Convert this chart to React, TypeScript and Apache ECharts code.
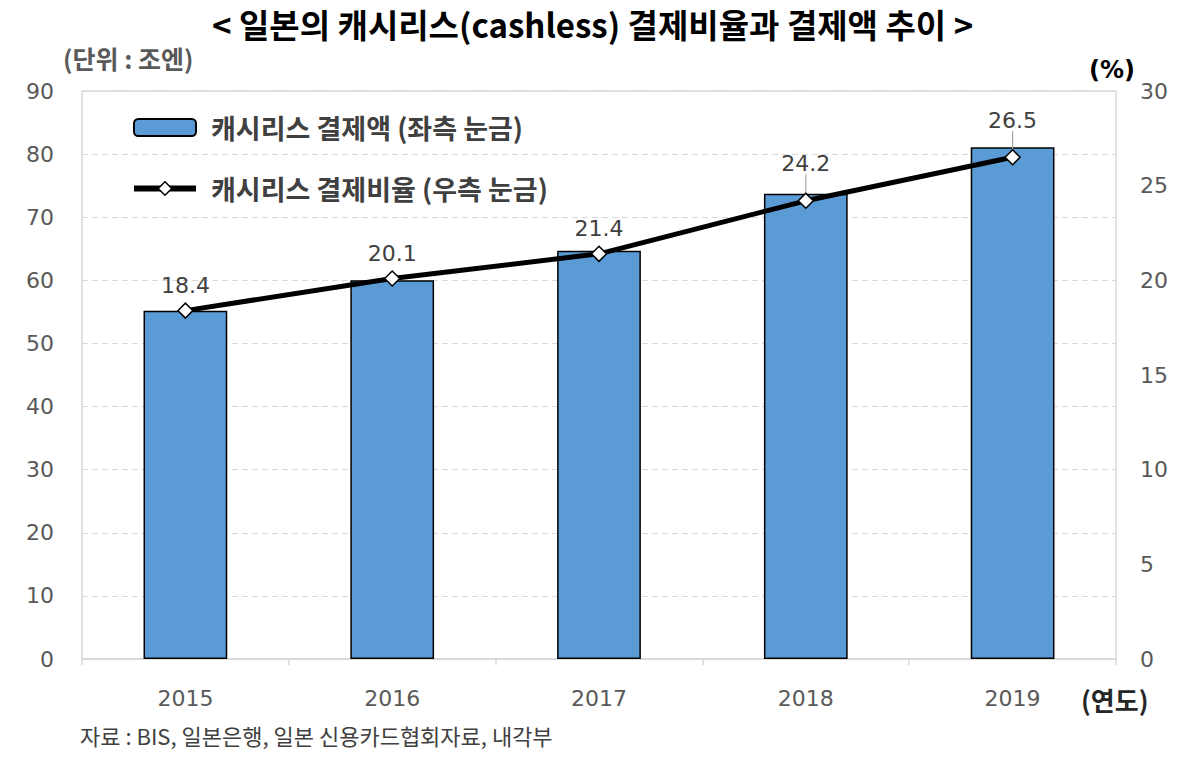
import React, { useEffect, useRef } from "react";
import * as echarts from "echarts";

const years = ["2015", "2016", "2017", "2018", "2019"];
const amountTrillionYen = [55.2, 60.0, 64.7, 73.7, 81.1];
const ratioPercent = [18.4, 20.1, 21.4, 24.2, 26.5];
const leaderLineYears = ["2018", "2019"];
const leftTicks = { min: 0, max: 90, interval: 10 };
const rightTicks = { min: 0, max: 30, interval: 5 };

const FONT = "'DejaVu Sans', 'Noto Sans CJK KR', sans-serif";
const KFONT = "'Noto Sans CJK KR', 'DejaVu Sans', sans-serif";

export default function App() {
  const ref = useRef<HTMLDivElement>(null);
  useEffect(() => {
    if (!ref.current) return;
    const chart = echarts.init(ref.current, null, { renderer: "svg" });
    const ratioData = ratioPercent.map((v, i) =>
      leaderLineYears.includes(years[i])
        ? { value: v, labelLine: { show: true, lineStyle: { color: "#a6a6a6", width: 1.2 } } }
        : { value: v, labelLine: { show: false } }
    );
    chart.setOption({
      animation: false,
      backgroundColor: "#ffffff",
      textStyle: { fontFamily: FONT },
      grid: {
        left: 82,
        right: 74,
        top: 91,
        bottom: 102,
        show: true,
        borderColor: "#d9d9d9",
        borderWidth: 1.5,
        containLabel: false,
      },
      legend: {
        orient: "vertical",
        left: 126,
        top: 109,
        itemWidth: 62,
        itemHeight: 17,
        itemGap: 34,
        textStyle: { fontSize: 27, fontWeight: "bold", color: "#404040", fontFamily: KFONT, padding: [0, 0, 0, 10] },
        data: [
          { name: "캐시리스 결제액 (좌측 눈금)" },
          {
            name: "캐시리스 결제비율 (우측 눈금)",
            lineStyle: { width: 6, color: "#000000" },
            itemStyle: { color: "#ffffff", borderColor: "#000000", borderWidth: 1.5 },
          },
        ],
      },
      xAxis: {
        type: "category",
        data: years,
        axisLine: { lineStyle: { color: "#d9d9d9", width: 1.5 } },
        axisTick: { show: true, alignWithLabel: false, length: 6, lineStyle: { color: "#d9d9d9", width: 1.5 } },
        axisLabel: { fontSize: 22, color: "#595959", margin: 28, fontFamily: FONT },
      },
      yAxis: [
        {
          type: "value",
          min: leftTicks.min,
          max: leftTicks.max,
          interval: leftTicks.interval,
          axisLine: { show: false },
          axisTick: { show: false },
          splitLine: { lineStyle: { color: "#d9d9d9", type: [6, 4], width: 1.2 } },
          axisLabel: { fontSize: 22, color: "#595959", margin: 28, fontFamily: FONT },
        },
        {
          type: "value",
          min: rightTicks.min,
          max: rightTicks.max,
          interval: rightTicks.interval,
          axisLine: { show: false },
          axisTick: { show: false },
          splitLine: { show: false },
          axisLabel: { fontSize: 22, color: "#595959", margin: 24, fontFamily: FONT },
        },
      ],
      series: [
        {
          name: "캐시리스 결제액 (좌측 눈금)",
          type: "bar",
          data: amountTrillionYen,
          yAxisIndex: 0,
          barWidth: "40.5%",
          itemStyle: { color: "#5b9bd5", borderColor: "#000000", borderWidth: 1.5 },
          z: 2,
        },
        {
          name: "캐시리스 결제비율 (우측 눈금)",
          type: "line",
          data: ratioData,
          yAxisIndex: 1,
          symbol: "diamond",
          symbolSize: 15,
          lineStyle: { color: "#000000", width: 5 },
          itemStyle: { color: "#ffffff", borderColor: "#000000", borderWidth: 1.5 },
          label: {
            show: true,
            position: "top",
            distance: 6,
            fontSize: 22,
            color: "#404040",
            fontFamily: FONT,
            formatter: (p: any) => Number(p.value).toFixed(1),
          },
          labelLayout: (p: any) => (leaderLineYears.includes(years[p.dataIndex]) ? { dy: -12 } : {}),
          z: 5,
        },
      ],
      graphic: [
        {
          type: "text",
          left: 212,
          top: 7,
          style: {
            text: "< 일본의 캐시리스(cashless) 결제비율과 결제액 추이 >",
            font: `bold 33px ${KFONT}`,
            fill: "#000000",
          },
        },
        {
          type: "text",
          left: 63,
          top: 45,
          style: { text: "(단위 : 조엔)", font: `bold 25px ${KFONT}`, fill: "#595959" },
        },
        {
          type: "text",
          left: 1089,
          top: 58,
          style: { text: "(%)", font: `bold 24px ${FONT}`, fill: "#000000" },
        },
        {
          type: "text",
          left: 1081,
          top: 686,
          style: { text: "(연도)", font: `bold 26px ${KFONT}`, fill: "#262626" },
        },
        {
          type: "text",
          left: 80,
          top: 724,
          style: { text: "자료 : BIS, 일본은행, 일본 신용카드협회자료, 내각부", font: `22px ${KFONT}`, fill: "#404040" },
        },
      ],
    });
    return () => chart.dispose();
  }, []);
  return (
    <div
      ref={ref}
      style={{ position: "fixed", left: 0, top: 0, width: 1190, height: 761, background: "#fff" }}
    />
  );
}
